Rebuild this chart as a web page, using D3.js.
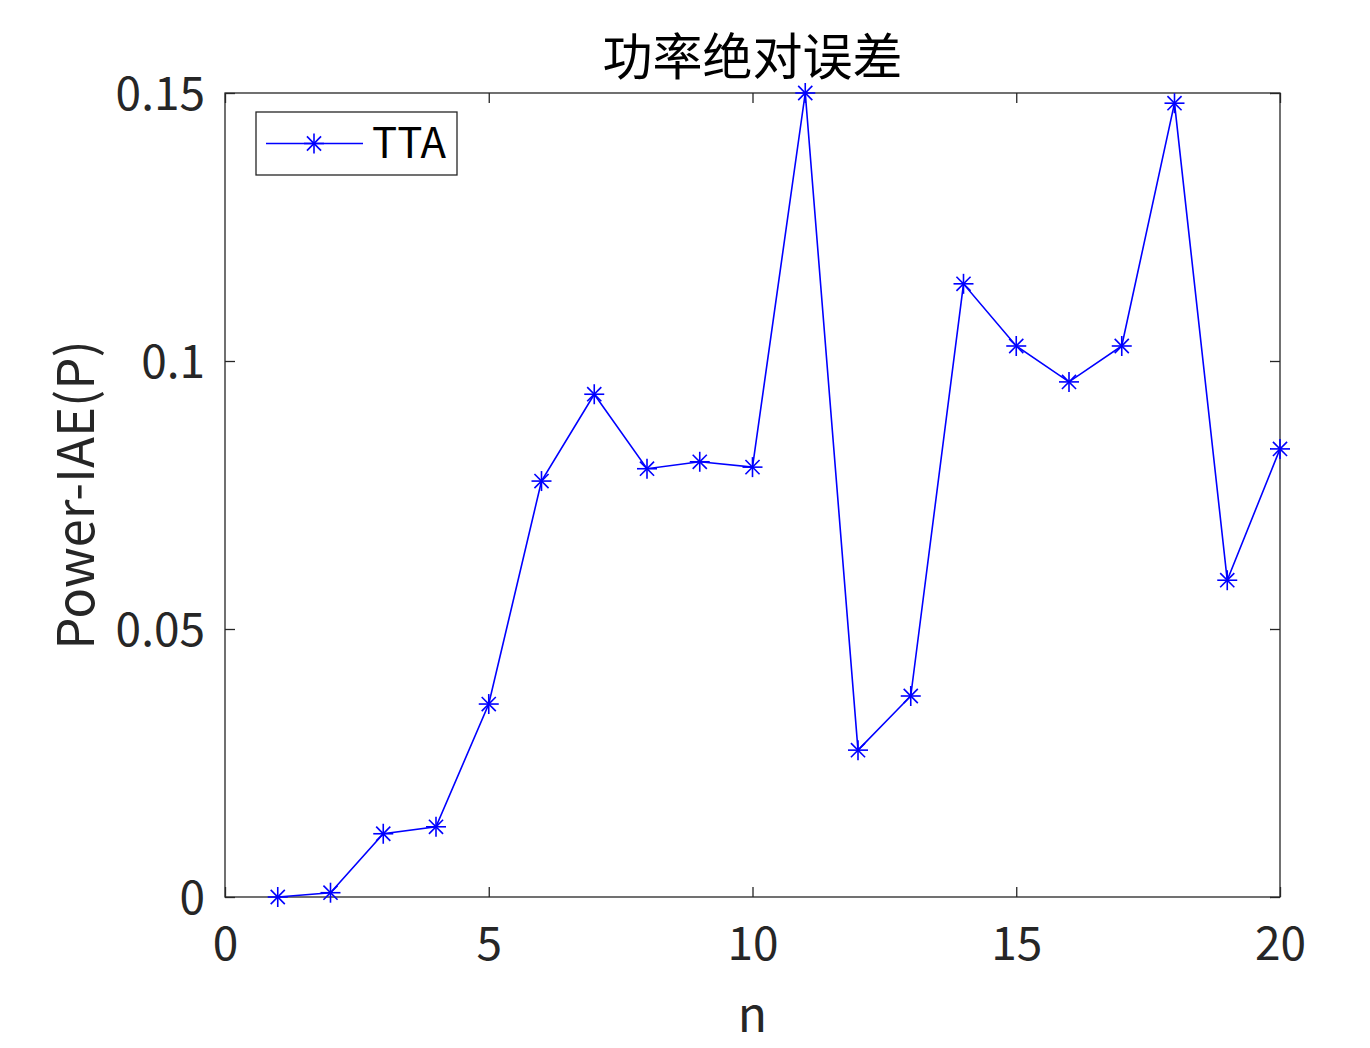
<!DOCTYPE html>
<html><head><meta charset="utf-8">
<script src="https://cdn.jsdelivr.net/npm/d3@7"></script>
<style>body{margin:0;background:#fff}svg{display:block}</style>
</head><body>
<script>
const nValues = [1,2,3,4,5,6,7,8,9,10,11,12,13,14,15,16,17,18,19,20];
const ttaValues = [0.0000,0.0008,0.0118,0.0131,0.0360,0.0776,0.0938,0.0799,0.0812,0.0802,0.1500,0.0274,0.0375,0.1144,0.1028,0.0961,0.1028,0.1481,0.0591,0.0836];
const xTicks = [0,5,10,15,20];
const yTicks = [0,0.05,0.1,0.15];
const yTickLabels = ["0","0.05","0.1","0.15"];
const seriesName = "TTA";
const titleText = "功率绝对误差";
const xLabelText = "n";
const yLabelText = "Power-IAE(P)";

const W=1370,H=1048;
const L=225,R=1280,T=93,B=897;
const font = "'Noto Sans CJK SC','Open Sans',sans-serif";
const axisColor="#262626";
const svg=d3.select("body").append("svg").attr("width",W).attr("height",H);
const x=d3.scaleLinear().domain([0,20]).range([L,R]);
const y=d3.scaleLinear().domain([0,0.15]).range([B,T]);

// box
svg.append("rect").attr("x",L).attr("y",T).attr("width",R-L).attr("height",B-T)
  .attr("fill","none").attr("stroke",axisColor).attr("stroke-width",1.3);

const tl=10;
const xa=svg.append("g").attr("transform",`translate(0,${B})`)
  .call(d3.axisBottom(x).tickValues(xTicks).tickSize(-tl).tickPadding(30).tickFormat(d3.format("d")));
const xt=svg.append("g").attr("transform",`translate(0,${T})`)
  .call(d3.axisTop(x).tickValues(xTicks).tickSize(-tl).tickFormat(""));
const ya=svg.append("g").attr("transform",`translate(${L},0)`)
  .call(d3.axisLeft(y).tickValues(yTicks).tickSize(-tl).tickPadding(20).tickFormat((d,i)=>yTickLabels[i]));
const yr=svg.append("g").attr("transform",`translate(${R},0)`)
  .call(d3.axisRight(y).tickValues(yTicks).tickSize(-tl).tickFormat(""));
[xa,xt,ya,yr].forEach(g=>{
  g.select(".domain").remove();
  g.selectAll("line").attr("stroke",axisColor).attr("stroke-width",1.3);
  g.selectAll("text").attr("fill",axisColor).style("font-family",font).style("font-size","46px");
});
xa.selectAll("text").attr("dy","0.71em");
ya.selectAll("text").attr("dy","0.35em");

// line
const data=nValues.map((n,i)=>({n,v:ttaValues[i]}));
svg.append("path").datum(data)
  .attr("d",d3.line().x(d=>x(d.n)).y(d=>y(d.v)))
  .attr("fill","none").attr("stroke","#0000ff").attr("stroke-width",1.6);

function star(g,cx,cy,r){
  const s=g.append("g").attr("transform",`translate(${cx},${cy})`);
  const d=r*0.7071;
  const segs=[[-r,0,r,0],[0,-r,0,r],[-d,-d,d,d],[-d,d,d,-d]];
  segs.forEach(a=>s.append("line").attr("x1",a[0]).attr("y1",a[1]).attr("x2",a[2]).attr("y2",a[3])
    .attr("stroke","#0000ff").attr("stroke-width",1.6));
}
const mg=svg.append("g");
data.forEach(d=>star(mg,x(d.n),y(d.v),10));

// legend
svg.append("rect").attr("x",256).attr("y",112).attr("width",201).attr("height",63)
  .attr("fill","#fff").attr("stroke",axisColor).attr("stroke-width",1.3);
svg.append("line").attr("x1",266).attr("x2",363).attr("y1",143.5).attr("y2",143.5)
  .attr("stroke","#0000ff").attr("stroke-width",1.6);
star(svg,314,143.5,10);
svg.append("text").attr("x",372).attr("y",143.5).attr("dy","0.35em").text(seriesName)
  .attr("fill","#000").style("font-family",font).style("font-size","42px");

// title
svg.append("text").attr("x",(L+R)/2).attr("y",57).attr("dy","0.35em").attr("text-anchor","middle")
  .text(titleText).attr("fill","#000").style("font-family",font).style("font-size","50px");
// x label
svg.append("text").attr("x",(L+R)/2).attr("y",1015).attr("dy","0.35em").attr("text-anchor","middle")
  .text(xLabelText).attr("fill",axisColor).style("font-family",font).style("font-size","48px");
// y label
svg.append("text").attr("transform",`translate(76,${(T+B)/2}) rotate(-90)`).attr("dy","0.35em")
  .attr("text-anchor","middle").text(yLabelText).attr("fill",axisColor)
  .style("font-family",font).style("font-size","51px");
</script>
</body></html>
